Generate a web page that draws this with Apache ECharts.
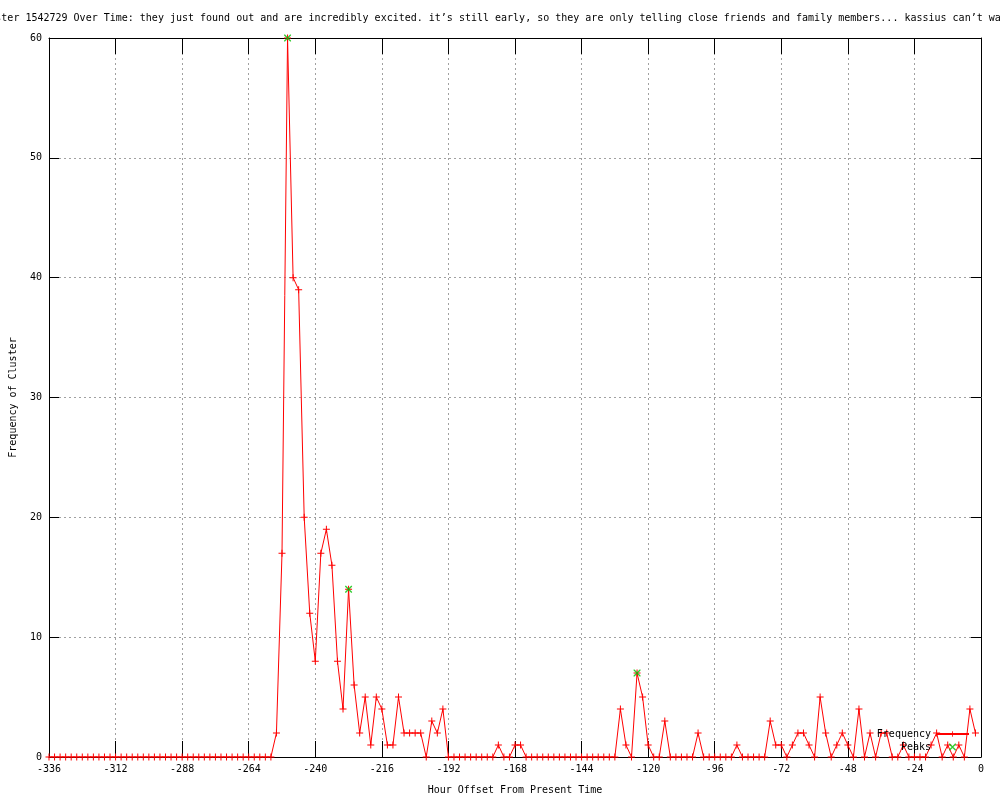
<!DOCTYPE html>
<html>
<head>
<meta charset="utf-8">
<script src="https://cdn.jsdelivr.net/npm/echarts@6/dist/echarts.min.js"></script>
<style>
  html, body { margin: 0; padding: 0; background: #fff; }
  #chart { width: 1000px; height: 800px; }
</style>
</head>
<body>
<div id="chart"></div>
<script>
// hour offsets: one point every 2 hours starting at -336
const hourStart = -336;
const hourStep = 2;
// cluster frequency per 2-hour bucket, -336 .. -2
const frequency = [
  0, 0, 0, 0, 0, 0, 0, 0, 0, 0,
  0, 0, 0, 0, 0, 0, 0, 0, 0, 0,
  0, 0, 0, 0, 0, 0, 0, 0, 0, 0,
  0, 0, 0, 0, 0, 0, 0, 0, 0, 0,
  0,
  2, 17, 60, 40, 39, 20, 12, 8, 17, 19,
  16, 8, 4, 14, 6, 2, 5, 1, 5, 4,
  1, 1, 5, 2, 2, 2, 2, 0, 3, 2,
  4, 0, 0, 0, 0, 0, 0, 0, 0, 0,
  1, 0, 0, 1, 1, 0, 0, 0, 0, 0,
  0, 0, 0, 0, 0, 0, 0, 0, 0, 0,
  0, 0, 4, 1, 0, 7, 5, 1, 0, 0,
  3, 0, 0, 0, 0, 0, 2, 0, 0, 0,
  0, 0, 0, 1, 0, 0, 0, 0, 0, 3,
  1, 1, 0, 1, 2, 2, 1, 0, 5, 2,
  0, 1, 2, 1, 0, 4, 0, 2, 0, 2,
  2, 0, 0, 1, 0, 0, 0, 0, 1, 2,
  0, 1, 0, 1, 0, 4, 2
];
const peakHours = [-250, -228, -124];
const peakValues = [60, 14, 7];

const titleText = "Frequency of Cluster 1542729 Over Time: they just found out and are incredibly excited. it\u2019s still early, so they are only telling close friends and family members... kassius can\u2019t wait";

const freqData = frequency.map((v, i) => [hourStart + i * hourStep, v]);
const peakData = peakHours.map((h, i) => [h, peakValues[i]]);

const mono = 'DejaVu Sans Mono';
const plusPath = 'path://M0,3L7,3L7,4L0,4Z M3,0L4,0L4,7L3,7Z';
const crossPath = 'path://M0,0L1,0L7,6L7,7L6,7L0,1Z M6,0L7,0L7,1L1,7L0,7L0,6Z';

let myChart = echarts.init(document.getElementById('chart'));
let option = {
  animation: false,
  backgroundColor: '#fff',
  title: {
    text: titleText,
    left: -101,
    top: 13,
    padding: 0,
    textStyle: { fontFamily: mono, fontSize: 10, fontWeight: 'normal', color: '#000' }
  },
  legend: {
    orient: 'vertical',
    right: 30,
    top: 729,
    padding: 0,
    itemGap: 3,
    align: 'right',
    itemWidth: 33,
    itemHeight: 7,
    textStyle: { fontFamily: mono, fontSize: 10, color: '#000' },
    data: ['Frequency', 'Peaks']
  },
  grid: { left: 49, right: 19, top: 38, bottom: 40 },
  xAxis: [
    {
      type: 'value',
      min: -336,
      max: 0,
      interval: 24,
      name: 'Hour Offset From Present Time',
      nameLocation: 'middle',
      nameGap: 28,
      nameTextStyle: { fontFamily: mono, fontSize: 10, color: '#000' },
      axisLine: { onZero: false, lineStyle: { color: '#000', width: 1 } },
      axisTick: { inside: true, length: 16, lineStyle: { color: '#000' } },
      axisLabel: { fontFamily: mono, fontSize: 10, color: '#000', margin: 7 },
      splitLine: { show: true, lineStyle: { color: '#a0a0a0', type: [2, 3] } }
    },
    {
      type: 'value',
      position: 'top',
      min: -336,
      max: 0,
      interval: 24,
      axisLine: { onZero: false, lineStyle: { color: '#000', width: 1 } },
      axisTick: { inside: true, length: 16, lineStyle: { color: '#000' } },
      axisLabel: { show: false },
      splitLine: { show: false }
    }
  ],
  yAxis: [
    {
      type: 'value',
      min: 0,
      max: 60,
      interval: 10,
      name: 'Frequency of Cluster',
      nameLocation: 'middle',
      nameGap: 31,
      nameRotate: 90,
      nameTextStyle: { fontFamily: mono, fontSize: 10, color: '#000' },
      axisLine: { show: true, onZero: false, lineStyle: { color: '#000', width: 1 } },
      axisTick: { show: true, inside: true, length: 10, lineStyle: { color: '#000' } },
      axisLabel: { fontFamily: mono, fontSize: 10, color: '#000', margin: 7 },
      splitLine: { show: true, lineStyle: { color: '#a0a0a0', type: [2, 3] } }
    },
    {
      type: 'value',
      position: 'right',
      min: 0,
      max: 60,
      interval: 10,
      axisLine: { show: true, onZero: false, lineStyle: { color: '#000', width: 1 } },
      axisTick: { show: true, inside: true, length: 10, lineStyle: { color: '#000' } },
      axisLabel: { show: false },
      splitLine: { show: false }
    }
  ],
  series: [
    {
      name: 'Frequency',
      type: 'line',
      data: freqData,
      symbol: plusPath,
      symbolSize: 7,
      showAllSymbol: true,
      lineStyle: { color: '#ff0000', width: 1 },
      itemStyle: { color: '#ff0000' },
      z: 3
    },
    {
      name: 'Peaks',
      type: 'scatter',
      data: peakData,
      symbol: crossPath,
      symbolSize: 7,
      itemStyle: { color: '#00c000' },
      z: 4
    }
  ]
};
myChart.setOption(option);
</script>
</body>
</html>
